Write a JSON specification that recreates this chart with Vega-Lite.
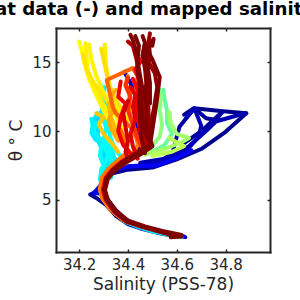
{
"$schema": "https://vega.github.io/schema/vega-lite/v6.json",
"width": 214, "height": 224,
"autosize": {"type": "none"},
"padding": {"left": 56, "top": 28, "right": 30, "bottom": 48},
"background": "white",
"title": {"text": "Float data (-) and mapped salinity", "font": "DejaVu Sans", "fontSize": 18.2, "fontWeight": "bold", "color": "#000000", "anchor": "middle", "dx": -24, "offset": 8},
"config": {"view": {"stroke": null}},
"data": {"values": [
{"p":"01","c":0,"S":34.635,"T":2.30},{"p":"01","c":0,"S":34.58,"T":2.42},{"p":"01","c":0,"S":34.53,"T":2.58},{"p":"01","c":0,"S":34.46,"T":2.88},{"p":"01","c":0,"S":34.40,"T":3.25},{"p":"01","c":0,"S":34.35,"T":3.85},{"p":"01","c":0,"S":34.31,"T":4.65},{"p":"01","c":0,"S":34.27,"T":5.15},{"p":"01","c":0,"S":34.245,"T":5.40},{"p":"01","c":0,"S":34.275,"T":5.65},{"p":"01","c":0,"S":34.30,"T":6.30},{"p":"01","c":0,"S":34.33,"T":6.90},{"p":"01","c":0,"S":34.40,"T":7.20},{"p":"01","c":0,"S":34.50,"T":7.35},{"p":"01","c":0,"S":34.60,"T":7.95},{"p":"01","c":0,"S":34.70,"T":8.70},{"p":"01","c":0,"S":34.80,"T":9.95},{"p":"01","c":0,"S":34.885,"T":11.30},{"p":"01","c":0,"S":34.79,"T":11.45},{"p":"01","c":0,"S":34.67,"T":11.66},{"p":"01","c":0,"S":34.63,"T":11.20},
{"p":"02","c":0.02,"S":34.40,"T":7.45},{"p":"02","c":0.02,"S":34.50,"T":7.55},{"p":"02","c":0.02,"S":34.58,"T":8.30},{"p":"02","c":0.02,"S":34.611,"T":10.32},{"p":"02","c":0.02,"S":34.672,"T":11.66},{"p":"02","c":0.02,"S":34.72,"T":10.93},{"p":"02","c":0.02,"S":34.761,"T":10.81},{"p":"02","c":0.02,"S":34.787,"T":11.41},{"p":"02","c":0.02,"S":34.70,"T":10.0},{"p":"02","c":0.02,"S":34.62,"T":9.0},
{"p":"03","c":0.04,"S":34.45,"T":7.70},{"p":"03","c":0.04,"S":34.55,"T":8.0},{"p":"03","c":0.04,"S":34.65,"T":8.9},{"p":"03","c":0.04,"S":34.72,"T":10.0},{"p":"03","c":0.04,"S":34.76,"T":10.7},{"p":"03","c":0.04,"S":34.85,"T":11.15},{"p":"03","c":0.04,"S":34.885,"T":11.3},
{"p":"04","c":0.05,"S":34.47,"T":7.5},{"p":"04","c":0.05,"S":34.57,"T":7.9},{"p":"04","c":0.05,"S":34.64,"T":8.6},{"p":"04","c":0.05,"S":34.69,"T":9.6},{"p":"04","c":0.05,"S":34.70,"T":10.4},{"p":"04","c":0.05,"S":34.672,"T":11.66},{"p":"04","c":0.05,"S":34.64,"T":11.0},
{"p":"05","c":0.06,"S":34.44,"T":8.4},{"p":"05","c":0.06,"S":34.45,"T":9.5},{"p":"05","c":0.06,"S":34.43,"T":10.5},{"p":"05","c":0.06,"S":34.44,"T":11.5},{"p":"05","c":0.06,"S":34.43,"T":12.6},{"p":"05","c":0.06,"S":34.41,"T":13.5},{"p":"05","c":0.06,"S":34.385,"T":14.3},
{"p":"06","c":0.12,"S":34.63,"T":2.35},{"p":"06","c":0.12,"S":34.57,"T":2.50},{"p":"06","c":0.12,"S":34.50,"T":2.75},{"p":"06","c":0.12,"S":34.44,"T":3.15},{"p":"06","c":0.12,"S":34.39,"T":3.60},{"p":"06","c":0.12,"S":34.345,"T":4.35},{"p":"06","c":0.12,"S":34.315,"T":5.10},{"p":"06","c":0.12,"S":34.295,"T":5.45},{"p":"06","c":0.12,"S":34.26,"T":5.5},{"p":"06","c":0.12,"S":34.285,"T":6.0},{"p":"06","c":0.12,"S":34.31,"T":6.7},{"p":"06","c":0.12,"S":34.35,"T":7.25},{"p":"06","c":0.12,"S":34.42,"T":7.45},{"p":"06","c":0.12,"S":34.52,"T":7.5},{"p":"06","c":0.12,"S":34.60,"T":8.05},{"p":"06","c":0.12,"S":34.66,"T":8.6},
{"p":"07","c":0.30,"S":34.33,"T":7.3},{"p":"07","c":0.30,"S":34.31,"T":8.0},{"p":"07","c":0.30,"S":34.29,"T":9.0},{"p":"07","c":0.30,"S":34.275,"T":9.8},{"p":"07","c":0.30,"S":34.26,"T":10.6},{"p":"07","c":0.30,"S":34.28,"T":11.0},{"p":"07","c":0.30,"S":34.29,"T":11.4},
{"p":"08","c":0.33,"S":34.62,"T":2.30},{"p":"08","c":0.33,"S":34.56,"T":2.48},{"p":"08","c":0.33,"S":34.50,"T":2.70},{"p":"08","c":0.33,"S":34.44,"T":3.05},{"p":"08","c":0.33,"S":34.385,"T":3.45},{"p":"08","c":0.33,"S":34.34,"T":4.15},{"p":"08","c":0.33,"S":34.305,"T":5.0},{"p":"08","c":0.33,"S":34.29,"T":5.6},{"p":"08","c":0.33,"S":34.30,"T":6.5},{"p":"08","c":0.33,"S":34.31,"T":7.2},{"p":"08","c":0.33,"S":34.30,"T":8.0},{"p":"08","c":0.33,"S":34.29,"T":8.8},{"p":"08","c":0.33,"S":34.27,"T":9.6},{"p":"08","c":0.33,"S":34.285,"T":10.2},{"p":"08","c":0.33,"S":34.26,"T":10.8},{"p":"08","c":0.33,"S":34.275,"T":11.3},
{"p":"09","c":0.35,"S":34.36,"T":7.7},{"p":"09","c":0.35,"S":34.33,"T":8.4},{"p":"09","c":0.35,"S":34.30,"T":9.0},{"p":"09","c":0.35,"S":34.265,"T":9.4},{"p":"09","c":0.35,"S":34.25,"T":9.9},{"p":"09","c":0.35,"S":34.255,"T":10.4},{"p":"09","c":0.35,"S":34.25,"T":10.9},
{"p":"10","c":0.36,"S":34.35,"T":7.5},{"p":"10","c":0.36,"S":34.34,"T":8.3},{"p":"10","c":0.36,"S":34.32,"T":9.0},{"p":"10","c":0.36,"S":34.28,"T":9.5},{"p":"10","c":0.36,"S":34.26,"T":10.0},{"p":"10","c":0.36,"S":34.27,"T":10.6},
{"p":"11","c":0.38,"S":34.32,"T":7.0},{"p":"11","c":0.38,"S":34.33,"T":7.8},{"p":"11","c":0.38,"S":34.31,"T":8.6},{"p":"11","c":0.38,"S":34.30,"T":9.4},{"p":"11","c":0.38,"S":34.31,"T":10.3},{"p":"11","c":0.38,"S":34.29,"T":11.3},{"p":"11","c":0.38,"S":34.30,"T":12.2},{"p":"11","c":0.38,"S":34.28,"T":13.0},{"p":"11","c":0.38,"S":34.29,"T":13.3},
{"p":"11b","c":0.382,"S":34.31,"T":6.2},{"p":"11b","c":0.382,"S":34.295,"T":6.8},{"p":"11b","c":0.382,"S":34.30,"T":7.5},{"p":"11b","c":0.382,"S":34.285,"T":8.2},{"p":"11b","c":0.382,"S":34.29,"T":8.9},{"p":"11b","c":0.382,"S":34.305,"T":9.5},
{"p":"11c","c":0.385,"S":34.30,"T":5.9},{"p":"11c","c":0.385,"S":34.285,"T":6.5},{"p":"11c","c":0.385,"S":34.29,"T":7.2},{"p":"11c","c":0.385,"S":34.31,"T":7.8},{"p":"11c","c":0.385,"S":34.325,"T":8.6},{"p":"11c","c":0.385,"S":34.31,"T":9.2},
{"p":"12","c":0.39,"S":34.38,"T":8.0},{"p":"12","c":0.39,"S":34.35,"T":8.6},{"p":"12","c":0.39,"S":34.33,"T":9.4},{"p":"12","c":0.39,"S":34.32,"T":10.2},{"p":"12","c":0.39,"S":34.30,"T":11.0},{"p":"12","c":0.39,"S":34.31,"T":11.8},{"p":"12","c":0.39,"S":34.30,"T":12.6},{"p":"12","c":0.39,"S":34.305,"T":13.2},
{"p":"13","c":0.40,"S":34.33,"T":6.6},{"p":"13","c":0.40,"S":34.34,"T":7.2},{"p":"13","c":0.40,"S":34.33,"T":7.8},{"p":"13","c":0.40,"S":34.32,"T":8.3},{"p":"13","c":0.40,"S":34.34,"T":8.8},{"p":"13","c":0.40,"S":34.33,"T":9.3},
{"p":"14","c":0.5,"S":34.50,"T":8.5},{"p":"14","c":0.5,"S":34.55,"T":9.0},{"p":"14","c":0.5,"S":34.58,"T":9.8},{"p":"14","c":0.5,"S":34.56,"T":10.6},{"p":"14","c":0.5,"S":34.56,"T":11.5},{"p":"14","c":0.5,"S":34.55,"T":12.3},{"p":"14","c":0.5,"S":34.545,"T":13.0},
{"p":"15","c":0.53,"S":34.49,"T":8.7},{"p":"15","c":0.53,"S":34.53,"T":9.6},{"p":"15","c":0.53,"S":34.54,"T":10.5},{"p":"15","c":0.53,"S":34.53,"T":11.5},{"p":"15","c":0.53,"S":34.535,"T":12.5},{"p":"15","c":0.53,"S":34.53,"T":13.0},
{"p":"16","c":0.55,"S":34.47,"T":8.3},{"p":"16","c":0.55,"S":34.55,"T":8.7},{"p":"16","c":0.55,"S":34.62,"T":9.2},{"p":"16","c":0.55,"S":34.65,"T":9.5},{"p":"16","c":0.55,"S":34.60,"T":9.8},{"p":"16","c":0.55,"S":34.575,"T":10.6},{"p":"16","c":0.55,"S":34.57,"T":11.4},
{"p":"17","c":0.57,"S":34.50,"T":8.2},{"p":"17","c":0.57,"S":34.58,"T":8.5},{"p":"17","c":0.57,"S":34.63,"T":8.9},{"p":"17","c":0.57,"S":34.60,"T":9.2},{"p":"17","c":0.57,"S":34.57,"T":9.5},
{"p":"18","c":0.63,"S":34.36,"T":9.5},{"p":"18","c":0.63,"S":34.33,"T":10.5},{"p":"18","c":0.63,"S":34.30,"T":11.5},{"p":"18","c":0.63,"S":34.27,"T":12.6},{"p":"18","c":0.63,"S":34.24,"T":13.8},{"p":"18","c":0.63,"S":34.22,"T":15.0},{"p":"18","c":0.63,"S":34.21,"T":15.9},{"p":"18","c":0.63,"S":34.20,"T":16.5},
{"p":"19","c":0.64,"S":34.38,"T":10.0},{"p":"19","c":0.64,"S":34.34,"T":11.5},{"p":"19","c":0.64,"S":34.30,"T":12.8},{"p":"19","c":0.64,"S":34.27,"T":14.0},{"p":"19","c":0.64,"S":34.25,"T":15.2},{"p":"19","c":0.64,"S":34.24,"T":16.3},
{"p":"20","c":0.645,"S":34.37,"T":9.8},{"p":"20","c":0.645,"S":34.33,"T":11.0},{"p":"20","c":0.645,"S":34.29,"T":12.2},{"p":"20","c":0.645,"S":34.26,"T":13.2},{"p":"20","c":0.645,"S":34.235,"T":14.4},{"p":"20","c":0.645,"S":34.23,"T":15.5},{"p":"20","c":0.645,"S":34.225,"T":16.4},
{"p":"21","c":0.65,"S":34.39,"T":10.5},{"p":"21","c":0.65,"S":34.35,"T":12.0},{"p":"21","c":0.65,"S":34.32,"T":13.5},{"p":"21","c":0.65,"S":34.31,"T":14.8},{"p":"21","c":0.65,"S":34.305,"T":16.3},
{"p":"22","c":0.66,"S":34.37,"T":11.0},{"p":"22","c":0.66,"S":34.30,"T":12.5},{"p":"22","c":0.66,"S":34.26,"T":13.5},{"p":"22","c":0.66,"S":34.23,"T":14.5},{"p":"22","c":0.66,"S":34.215,"T":15.6},
{"p":"23","c":0.67,"S":34.40,"T":10.8},{"p":"23","c":0.67,"S":34.36,"T":12.0},{"p":"23","c":0.67,"S":34.33,"T":13.0},{"p":"23","c":0.67,"S":34.315,"T":14.0},{"p":"23","c":0.67,"S":34.30,"T":15.2},{"p":"23","c":0.67,"S":34.29,"T":16.0},
{"p":"24","c":0.7,"S":34.36,"T":8.5},{"p":"24","c":0.7,"S":34.33,"T":9.2},{"p":"24","c":0.7,"S":34.30,"T":9.8},{"p":"24","c":0.7,"S":34.28,"T":10.5},{"p":"24","c":0.7,"S":34.30,"T":11.0},{"p":"24","c":0.7,"S":34.27,"T":11.3},
{"p":"25","c":0.72,"S":34.40,"T":9.0},{"p":"25","c":0.72,"S":34.35,"T":10.0},{"p":"25","c":0.72,"S":34.33,"T":11.0},{"p":"25","c":0.72,"S":34.32,"T":12.0},
{"p":"26","c":0.74,"S":34.36,"T":9.3},{"p":"26","c":0.74,"S":34.33,"T":10.2},{"p":"26","c":0.74,"S":34.32,"T":10.8},{"p":"26","c":0.74,"S":34.34,"T":11.5},{"p":"26","c":0.74,"S":34.33,"T":12.5},{"p":"26","c":0.74,"S":34.35,"T":13.0},
{"p":"27","c":0.78,"S":34.605,"T":2.45},{"p":"27","c":0.78,"S":34.555,"T":2.62},{"p":"27","c":0.78,"S":34.52,"T":2.78},{"p":"27","c":0.78,"S":34.45,"T":3.10},{"p":"27","c":0.78,"S":34.385,"T":3.50},{"p":"27","c":0.78,"S":34.335,"T":4.22},{"p":"27","c":0.78,"S":34.30,"T":5.05},{"p":"27","c":0.78,"S":34.29,"T":5.75},{"p":"27","c":0.78,"S":34.30,"T":6.62},{"p":"27","c":0.78,"S":34.327,"T":7.22},{"p":"27","c":0.78,"S":34.367,"T":7.82},{"p":"27","c":0.78,"S":34.42,"T":8.35},{"p":"27","c":0.78,"S":34.44,"T":9.0},{"p":"27","c":0.78,"S":34.43,"T":10.0},{"p":"27","c":0.78,"S":34.41,"T":11.0},{"p":"27","c":0.78,"S":34.40,"T":12.0},{"p":"27","c":0.78,"S":34.41,"T":12.8},{"p":"27","c":0.78,"S":34.39,"T":13.4},{"p":"27","c":0.78,"S":34.40,"T":14.0},
{"p":"28","c":0.80,"S":34.60,"T":2.5},{"p":"28","c":0.80,"S":34.55,"T":2.68},{"p":"28","c":0.80,"S":34.51,"T":2.84},{"p":"28","c":0.80,"S":34.445,"T":3.15},{"p":"28","c":0.80,"S":34.378,"T":3.56},{"p":"28","c":0.80,"S":34.328,"T":4.3},{"p":"28","c":0.80,"S":34.294,"T":5.1},{"p":"28","c":0.80,"S":34.284,"T":5.8},{"p":"28","c":0.80,"S":34.294,"T":6.65},{"p":"28","c":0.80,"S":34.32,"T":7.28},{"p":"28","c":0.80,"S":34.36,"T":7.9},{"p":"28","c":0.80,"S":34.40,"T":8.5},{"p":"28","c":0.80,"S":34.39,"T":9.3},{"p":"28","c":0.80,"S":34.37,"T":10.1},
{"p":"29","c":0.82,"S":34.45,"T":9.0},{"p":"29","c":0.82,"S":34.41,"T":10.3},{"p":"29","c":0.82,"S":34.35,"T":11.3},{"p":"29","c":0.82,"S":34.338,"T":11.75},{"p":"29","c":0.82,"S":34.313,"T":13.71},{"p":"29","c":0.82,"S":34.419,"T":14.58},{"p":"29","c":0.82,"S":34.44,"T":14.0},{"p":"29","c":0.82,"S":34.43,"T":12.5},{"p":"29","c":0.82,"S":34.45,"T":11.0},
{"p":"30","c":0.86,"S":34.46,"T":8.7},{"p":"30","c":0.86,"S":34.44,"T":9.5},{"p":"30","c":0.86,"S":34.42,"T":10.5},{"p":"30","c":0.86,"S":34.40,"T":11.5},{"p":"30","c":0.86,"S":34.41,"T":12.5},{"p":"30","c":0.86,"S":34.39,"T":13.3},{"p":"30","c":0.86,"S":34.40,"T":13.9},
{"p":"31","c":0.88,"S":34.61,"T":2.38},{"p":"31","c":0.88,"S":34.56,"T":2.58},{"p":"31","c":0.88,"S":34.525,"T":2.72},{"p":"31","c":0.88,"S":34.456,"T":3.06},{"p":"31","c":0.88,"S":34.39,"T":3.45},{"p":"31","c":0.88,"S":34.342,"T":4.18},{"p":"31","c":0.88,"S":34.308,"T":5.02},{"p":"31","c":0.88,"S":34.297,"T":5.73},{"p":"31","c":0.88,"S":34.308,"T":6.61},{"p":"31","c":0.88,"S":34.334,"T":7.2},{"p":"31","c":0.88,"S":34.374,"T":7.8},{"p":"31","c":0.88,"S":34.43,"T":8.4},{"p":"31","c":0.88,"S":34.47,"T":8.8},{"p":"31","c":0.88,"S":34.45,"T":10.0},{"p":"31","c":0.88,"S":34.44,"T":11.0},{"p":"31","c":0.88,"S":34.43,"T":12.0},{"p":"31","c":0.88,"S":34.44,"T":13.0},{"p":"31","c":0.88,"S":34.42,"T":13.8},
{"p":"32","c":0.89,"S":34.42,"T":8.2},{"p":"32","c":0.89,"S":34.38,"T":9.0},{"p":"32","c":0.89,"S":34.36,"T":10.0},{"p":"32","c":0.89,"S":34.37,"T":11.0},{"p":"32","c":0.89,"S":34.39,"T":12.0},{"p":"32","c":0.89,"S":34.36,"T":12.5},{"p":"32","c":0.89,"S":34.37,"T":13.6},
{"p":"33","c":0.9,"S":34.48,"T":9.0},{"p":"33","c":0.9,"S":34.47,"T":10.5},{"p":"33","c":0.9,"S":34.46,"T":12.0},{"p":"33","c":0.9,"S":34.45,"T":13.5},{"p":"33","c":0.9,"S":34.43,"T":14.5},{"p":"33","c":0.9,"S":34.45,"T":15.0},{"p":"33","c":0.9,"S":34.44,"T":15.5},
{"p":"34","c":0.91,"S":34.44,"T":8.0},{"p":"34","c":0.91,"S":34.42,"T":8.9},{"p":"34","c":0.91,"S":34.41,"T":9.8},{"p":"34","c":0.91,"S":34.43,"T":10.8},{"p":"34","c":0.91,"S":34.42,"T":11.8},{"p":"34","c":0.91,"S":34.43,"T":12.6},{"p":"34","c":0.91,"S":34.41,"T":13.2},
{"p":"35","c":0.92,"S":34.40,"T":7.9},{"p":"35","c":0.92,"S":34.39,"T":8.5},{"p":"35","c":0.92,"S":34.40,"T":9.3},{"p":"35","c":0.92,"S":34.39,"T":10.3},{"p":"35","c":0.92,"S":34.38,"T":11.3},{"p":"35","c":0.92,"S":34.40,"T":12.2},
{"p":"36","c":0.95,"S":34.47,"T":8.6},{"p":"36","c":0.95,"S":34.46,"T":9.8},{"p":"36","c":0.95,"S":34.455,"T":11.0},{"p":"36","c":0.95,"S":34.45,"T":12.5},{"p":"36","c":0.95,"S":34.445,"T":14.0},{"p":"36","c":0.95,"S":34.435,"T":15.2},{"p":"36","c":0.95,"S":34.42,"T":16.2},{"p":"36","c":0.95,"S":34.40,"T":16.5},
{"p":"37","c":0.97,"S":34.49,"T":9.0},{"p":"37","c":0.97,"S":34.485,"T":11.0},{"p":"37","c":0.97,"S":34.48,"T":13.0},{"p":"37","c":0.97,"S":34.48,"T":14.5},{"p":"37","c":0.97,"S":34.49,"T":15.5},{"p":"37","c":0.97,"S":34.485,"T":16.6},{"p":"37","c":0.97,"S":34.49,"T":17.1},
{"p":"38","c":0.98,"S":34.48,"T":9.5},{"p":"38","c":0.98,"S":34.505,"T":11.5},{"p":"38","c":0.98,"S":34.52,"T":13.2},{"p":"38","c":0.98,"S":34.51,"T":14.2},{"p":"38","c":0.98,"S":34.48,"T":15.17},{"p":"38","c":0.98,"S":34.47,"T":16.0},
{"p":"39","c":1,"S":34.49,"T":9.0},{"p":"39","c":1,"S":34.50,"T":10.1},{"p":"39","c":1,"S":34.517,"T":12.04},{"p":"39","c":1,"S":34.53,"T":13.93},{"p":"39","c":1,"S":34.50,"T":15.2},{"p":"39","c":1,"S":34.468,"T":16.26},{"p":"39","c":1,"S":34.46,"T":15.5},
{"p":"40","c":1,"S":34.575,"T":2.30},{"p":"40","c":1,"S":34.62,"T":2.35},{"p":"40","c":1,"S":34.62,"T":2.45},{"p":"40","c":1,"S":34.58,"T":2.60},{"p":"40","c":1,"S":34.54,"T":2.75},{"p":"40","c":1,"S":34.47,"T":3.08},{"p":"40","c":1,"S":34.40,"T":3.50},{"p":"40","c":1,"S":34.352,"T":4.2},{"p":"40","c":1,"S":34.318,"T":5.0},{"p":"40","c":1,"S":34.306,"T":5.72},{"p":"40","c":1,"S":34.318,"T":6.55},{"p":"40","c":1,"S":34.345,"T":7.12},{"p":"40","c":1,"S":34.39,"T":7.7},{"p":"40","c":1,"S":34.45,"T":8.3},{"p":"40","c":1,"S":34.50,"T":8.9},{"p":"40","c":1,"S":34.48,"T":10.0},{"p":"40","c":1,"S":34.475,"T":11.5},{"p":"40","c":1,"S":34.47,"T":12.5},{"p":"40","c":1,"S":34.475,"T":13.5},{"p":"40","c":1,"S":34.47,"T":14.5},{"p":"40","c":1,"S":34.46,"T":15.5},{"p":"40","c":1,"S":34.47,"T":16.4},{"p":"40","c":1,"S":34.46,"T":16.9},
{"p":"41","c":1,"S":34.59,"T":2.40},{"p":"41","c":1,"S":34.565,"T":2.52},{"p":"41","c":1,"S":34.529,"T":2.70},{"p":"41","c":1,"S":34.46,"T":3.04},{"p":"41","c":1,"S":34.395,"T":3.42},{"p":"41","c":1,"S":34.346,"T":4.15},{"p":"41","c":1,"S":34.312,"T":5.0},{"p":"41","c":1,"S":34.301,"T":5.72},{"p":"41","c":1,"S":34.312,"T":6.6},{"p":"41","c":1,"S":34.338,"T":7.18},{"p":"41","c":1,"S":34.378,"T":7.78},{"p":"41","c":1,"S":34.434,"T":8.39},{"p":"41","c":1,"S":34.489,"T":8.99},{"p":"41","c":1,"S":34.47,"T":10.0},{"p":"41","c":1,"S":34.46,"T":11.0},{"p":"41","c":1,"S":34.455,"T":12.0},{"p":"41","c":1,"S":34.46,"T":13.0},{"p":"41","c":1,"S":34.45,"T":14.0},{"p":"41","c":1,"S":34.44,"T":15.0},{"p":"41","c":1,"S":34.43,"T":16.0},{"p":"41","c":1,"S":34.42,"T":16.6},{"p":"41","c":1,"S":34.41,"T":17.0},
{"p":"42","c":1,"S":34.47,"T":8.4},{"p":"42","c":1,"S":34.455,"T":9.5},{"p":"42","c":1,"S":34.45,"T":10.8},{"p":"42","c":1,"S":34.445,"T":12.0},{"p":"42","c":1,"S":34.45,"T":13.2},{"p":"42","c":1,"S":34.44,"T":14.3},{"p":"42","c":1,"S":34.44,"T":15.4},{"p":"42","c":1,"S":34.445,"T":16.2},{"p":"42","c":1,"S":34.43,"T":16.9},
{"p":"43","c":1,"S":34.49,"T":12.0},{"p":"43","c":1,"S":34.49,"T":13.5},{"p":"43","c":1,"S":34.48,"T":14.8},{"p":"43","c":1,"S":34.47,"T":15.6},{"p":"43","c":1,"S":34.49,"T":16.3},{"p":"43","c":1,"S":34.505,"T":16.7},{"p":"43","c":1,"S":34.50,"T":16.2}
]},
"layer": [
{"mark": {"type": "line", "strokeWidth": 4, "strokeCap": "round", "strokeJoin": "round", "clip": true},
 "encoding": {
  "x": {"field": "S", "type": "quantitative", "scale": {"domain": [34.105, 34.982], "nice": false, "zero": false},
        "axis": {"orient": "bottom", "values": [34.2, 34.4, 34.6, 34.8], "format": ".1f", "title": "Salinity (PSS-78)", "grid": false, "domain": true, "domainColor": "#262626", "domainWidth": 2, "domainCap": "square", "tickColor": "#262626", "tickSize": -3, "tickWidth": 1.5, "labelFont": "DejaVu Sans", "labelFontSize": 15, "labelColor": "#262626", "labelPadding": 8, "titleFont": "DejaVu Sans", "titleFontSize": 17, "titleFontWeight": "normal", "titleColor": "#262626", "titlePadding": 4}},
  "y": {"field": "T", "type": "quantitative", "scale": {"domain": [1.22, 17.49], "nice": false, "zero": false},
        "axis": {"orient": "left", "values": [5, 10, 15], "format": "d", "title": "θ ° C", "grid": false, "domain": true, "domainColor": "#262626", "domainWidth": 2, "domainCap": "square", "tickColor": "#262626", "tickSize": -3, "tickWidth": 1.5, "labelFont": "DejaVu Sans", "labelFontSize": 15, "labelColor": "#262626", "labelPadding": 8, "titleFont": "DejaVu Sans", "titleFontSize": 17, "titleFontWeight": "normal", "titleColor": "#262626", "titlePadding": 6}},
  "detail": {"field": "p", "type": "nominal"},
  "color": {"field": "c", "type": "quantitative", "scale": {"type": "linear", "domain": [0, 0.125, 0.375, 0.625, 0.875, 1], "range": ["#00008f", "#0000ff", "#00ffff", "#ffff00", "#ff0000", "#800000"]}, "legend": null},
  "order": {"value": null}
 }},
{"mark": {"type": "point", "opacity": 0, "size": 0},
 "encoding": {
  "x": {"field": "S", "type": "quantitative", "scale": {"domain": [34.105, 34.982], "nice": false, "zero": false},
        "axis": {"orient": "top", "values": [34.2, 34.4, 34.6, 34.8], "labels": false, "title": null, "grid": false, "domain": true, "domainColor": "#262626", "domainWidth": 2, "domainCap": "square", "tickColor": "#262626", "tickSize": -3, "tickWidth": 1.5}},
  "y": {"field": "T", "type": "quantitative", "scale": {"domain": [1.22, 17.49], "nice": false, "zero": false},
        "axis": {"orient": "right", "values": [5, 10, 15], "labels": false, "title": null, "grid": false, "domain": true, "domainColor": "#262626", "domainWidth": 2, "domainCap": "square", "tickColor": "#262626", "tickSize": -3, "tickWidth": 1.5}}
 }}
],
"resolve": {"axis": {"x": "independent", "y": "independent"}}
}
